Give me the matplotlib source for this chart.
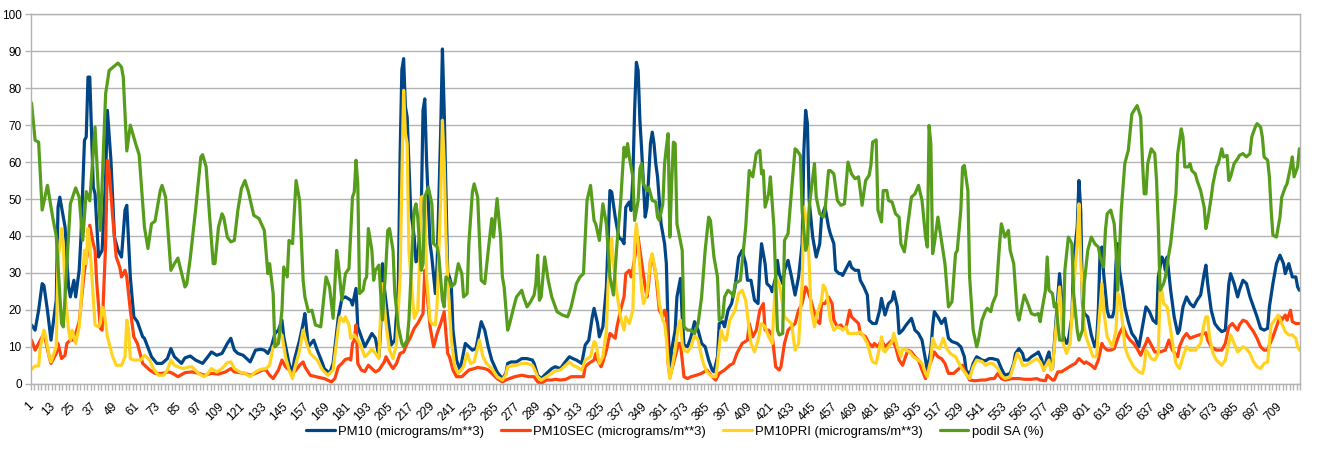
import numpy as np
import matplotlib
matplotlib.use("Agg")
import matplotlib.pyplot as plt

plt.rcParams['font.family'] = ['Liberation Sans', 'DejaVu Sans']

# hour index -> value (turning points)
pm10_pts = [
    (1, 15.9), (3, 14.5), (5, 19.9), (7, 27.1), (8, 26.6), (10, 19.9), (12, 11.8), (15, 22.6), (16, 47.8), (17, 50.5),
    (19, 45), (20, 42.4), (21, 33.4), (22, 26.2), (23, 23.5), (25, 28), (26, 23.5), (28, 30.7), (29, 39.7), (31, 65.9),
    (32, 66.8), (33, 83), (34, 83), (36, 53.2), (37, 51.4), (39, 34.3), (41, 36.1), (43, 56), (44, 74), (46, 60.5),
    (48, 39.7), (50, 36.1), (52, 34.3), (54, 47), (55, 48.3), (57, 28.9), (59, 18.1), (61, 16.8), (64, 12.7), (65, 12.3),
    (69, 7.3), (72, 5.5), (75, 5.5), (78, 6.8), (80, 9.5), (82, 7.3), (84, 6.4), (86, 5.5), (88, 7), (91, 7.5),
    (94, 6.4), (98, 5.5), (101, 7.3), (103, 8.6), (106, 7.7), (109, 8.2), (112, 10.9), (114, 12.3), (116, 9.1), (118, 8.2),
    (121, 7.7), (125, 5.9), (128, 9.1), (131, 9.3), (133, 9.1), (135, 8.2), (137, 10), (139, 13.6), (141, 14.5), (143, 17.2),
    (144, 12.7), (147, 5.5), (149, 2.8), (150, 6.4), (153, 11.8), (155, 16.3), (156, 19), (158, 10), (161, 11.8), (163, 9.1),
    (166, 5.5), (167, 4.1), (170, 2.8), (172, 5.5), (175, 18.1), (177, 23.1), (179, 23.5), (182, 22.6), (183, 21.3), (184, 23.5),
    (185, 25.8), (186, 15.4), (188, 12.7), (190, 10), (192, 11.8), (194, 13.6), (196, 12.3), (198, 7.3), (199, 15.4), (200, 32.5),
    (201, 26.2), (203, 18.1), (205, 10.5), (207, 11.8), (209, 26.2), (210, 62), (211, 85), (212, 88), (213, 75), (214, 72.2),
    (216, 47), (218, 39.7), (219, 33), (220, 33.5), (222, 47), (223, 74), (224, 77.1), (225, 60.5), (227, 37.9), (228, 34.3),
    (230, 24.4), (231, 32.5), (233, 68), (234, 90.6), (235, 74), (236, 51.4), (237, 30), (238, 28.9), (239, 27.1), (240, 14.5),
    (242, 6.4), (244, 3.7), (247, 10.9), (249, 10), (251, 9.1), (253, 9.5), (256, 16.8), (258, 14.5), (260, 10), (262, 6.4),
    (265, 3.2), (268, 1.4), (270, 2.8), (271, 5.5), (273, 5.9), (276, 5.9), (279, 6.8), (282, 6.8), (285, 6.4), (286, 5.5),
    (288, 2.3), (290, 1.4), (293, 2.8), (296, 4.1), (298, 4.6), (301, 4.1), (303, 5.5), (306, 7.3), (308, 6.8), (310, 6.4),
    (313, 5.5), (315, 10.5), (317, 11.8), (319, 18.1), (320, 20.4), (322, 16.3), (323, 12.7), (325, 15.4), (327, 26.2), (329, 52.3),
    (330, 51.9), (332, 45.1), (334, 39.7), (336, 38.8), (337, 37.9), (338, 47.8), (340, 49.2), (341, 46.9), (342, 56), (343, 74),
    (344, 87), (345, 84.8), (346, 71.3), (347, 63.2), (349, 45.1), (350, 47.8), (352, 65), (353, 68.1), (354, 65), (355, 59.6),
    (356, 56), (358, 43.3), (360, 37.9), (361, 32.5), (362, 15), (363, 2.8), (364, 9.1), (366, 14.5), (367, 23.5), (369, 28.5),
    (370, 18.1), (371, 10.5), (373, 10), (375, 12.7), (377, 16.8), (379, 14.5), (381, 10.9), (383, 10), (385, 6.4), (387, 3.7),
    (388, 3.2), (390, 7.3), (391, 16.3), (393, 16.8), (394, 15.4), (396, 19.9), (398, 21.7), (400, 26.2), (402, 34.3), (404, 36.1),
    (406, 32.5), (407, 28), (409, 28), (411, 22.6), (413, 21.7), (414, 31.6), (415, 37.9), (417, 32.5), (418, 27.1), (420, 26.2),
    (421, 24.9), (423, 28.9), (424, 33.4), (425, 29.8), (427, 27.1), (428, 30.7), (430, 33.4), (432, 28.9), (434, 24), (436, 28.9),
    (438, 37.9), (439, 63.2), (440, 74), (441, 70.4), (442, 49.6), (444, 39.7), (446, 34.3), (448, 37.9), (449, 45.1), (451, 47.8),
    (453, 42.4), (454, 40.6), (456, 37.9), (457, 30.7), (459, 29.8), (460, 29.8), (461, 29.3), (463, 31.2), (465, 33), (466, 31.5),
    (468, 30.7), (470, 30.7), (471, 28), (473, 26.2), (475, 24), (476, 17.2), (478, 16.3), (480, 16.3), (482, 19.9), (483, 23.1),
    (485, 18.6), (487, 21.7), (489, 22.6), (490, 24.9), (492, 20.8), (493, 13.6), (495, 14.5), (497, 15.9), (500, 17.7), (502, 14.5),
    (504, 13.6), (506, 11.8), (508, 6.4), (509, 3.7), (511, 9.1), (512, 15.4), (513, 19.5), (515, 18.1), (517, 16.3), (519, 17.7),
    (521, 12.3), (523, 11.4), (526, 10.9), (528, 10), (530, 7.3), (531, 3.7), (533, 2.3), (535, 5.5), (537, 7.3), (540, 6.4),
    (542, 6.2), (544, 6.8), (546, 6.8), (549, 6.4), (551, 4.1), (553, 2.3), (556, 2.8), (558, 5.5), (559, 8.2), (561, 9.5),
    (563, 8.2), (564, 6.4), (566, 6.4), (568, 7.3), (571, 8.2), (572, 8.6), (574, 6.4), (575, 3.7), (577, 7.3), (578, 8.6),
    (579, 4.1), (580, 4.1), (582, 17.2), (584, 29.8), (585, 24.4), (586, 13.2), (588, 10.9), (589, 11.8), (591, 18.1), (592, 33.4),
    (594, 42.4), (595, 55), (596, 47), (597, 21.7), (598, 19), (600, 18.1), (602, 13.2), (604, 10), (605, 11.8), (606, 19.9),
    (607, 36.1), (608, 37), (609, 29.8), (611, 19.9), (612, 18.1), (614, 18.1), (615, 19.9), (616, 32.5), (617, 37.9), (618, 30.7),
    (620, 24.4), (621, 20.8), (623, 16.8), (625, 13.6), (627, 12.3), (629, 10), (630, 12.7), (632, 18.1), (633, 20.8), (635, 19.5),
    (637, 17.2), (639, 16.3), (640, 28.9), (642, 34.3), (643, 33.4), (644, 30.7), (645, 34.3), (647, 25.3), (649, 18.1), (651, 13.6),
    (652, 14.5), (654, 20.8), (656, 23.5), (658, 21.7), (660, 20.8), (662, 22.6), (664, 24), (666, 29.8), (667, 32.1), (668, 27.1),
    (670, 19.9), (672, 16.3), (674, 15), (676, 14.1), (678, 14.5), (680, 27.1), (681, 29.8), (683, 27.1), (685, 23.5), (686, 25.3),
    (688, 28), (690, 27.1), (692, 23.5), (694, 20.8), (696, 18.1), (698, 15), (700, 14.5), (702, 15), (703, 20.8), (705, 27.1),
    (707, 32.5), (709, 34.8), (711, 32.5), (712, 29.8), (714, 32.5), (716, 28.9), (718, 28.9), (719, 26.2), (720, 25.3),
]

pm10sec_pts = [
    (1, 11.8), (3, 9.1), (5, 10.9), (8, 13.6), (11, 7.3), (12, 5.5), (15, 8.2), (16, 10.9), (18, 6.8), (20, 7.7),
    (21, 10.9), (23, 11.8), (25, 11.8), (26, 13.6), (28, 16.8), (31, 30.7), (33, 36.1), (34, 42.9), (36, 37.9), (37, 36.1),
    (38, 27.1), (40, 15), (41, 14.5), (43, 37.9), (44, 60.5), (45, 57.7), (47, 45.1), (49, 34.3), (51, 31.6), (52, 28.9),
    (54, 30.7), (55, 28.9), (57, 19.9), (59, 12.7), (61, 10.9), (64, 5.5), (68, 3.7), (71, 2.8), (75, 2.8), (79, 3.2),
    (81, 2.8), (84, 1.9), (88, 3), (92, 3.2), (96, 2.8), (99, 2.3), (103, 2.8), (107, 2.6), (111, 3.2), (114, 4.1),
    (116, 3.2), (119, 3), (122, 2.8), (125, 2.3), (128, 2.8), (132, 3.7), (134, 3.7), (136, 2.3), (138, 1.4), (141, 3.7),
    (143, 6.4), (145, 4.6), (147, 3.7), (149, 2.8), (151, 3.7), (153, 5), (155, 5.9), (156, 4.6), (159, 2.3), (164, 1.7),
    (167, 1.4), (171, 0.5), (173, 1.4), (175, 4.6), (177, 5.5), (179, 6.6), (181, 6.8), (182, 6.4), (183, 10.9), (184, 11.8),
    (185, 15.9), (186, 5.5), (188, 3.7), (190, 3.3), (192, 5), (194, 4.1), (196, 3.2), (198, 3.7), (201, 5.9), (202, 7.3),
    (204, 5.5), (206, 4.1), (208, 5.5), (210, 8.2), (212, 8.6), (214, 10.9), (216, 12.7), (218, 15), (220, 16.3), (221, 17.2),
    (223, 19), (224, 30.7), (225, 26.2), (227, 15.4), (229, 10), (231, 13.6), (233, 16.3), (235, 19.5), (236, 13.6), (237, 8.2),
    (238, 7.3), (240, 3.7), (242, 1.9), (245, 1.9), (247, 2.8), (249, 3.7), (252, 4.1), (254, 4.4), (258, 4.1), (260, 3.7),
    (262, 2.8), (265, 1.4), (268, 0.5), (270, 1), (272, 1.4), (275, 1.9), (279, 2.3), (283, 1.9), (286, 1.9), (288, 0.5),
    (290, 0.1), (293, 1), (296, 1), (298, 1.2), (301, 1), (304, 1.2), (307, 1.9), (311, 1.9), (314, 1.9), (315, 4.6),
    (317, 5.5), (320, 6.4), (321, 8.2), (322, 6.4), (324, 4.6), (325, 5.9), (327, 9.1), (329, 13.6), (330, 13.2), (332, 12.3),
    (333, 15.4), (335, 19.9), (337, 23.5), (338, 29.8), (340, 30.7), (341, 28.9), (342, 31), (344, 37), (345, 39.7), (346, 36.1),
    (349, 26.2), (350, 23.5), (351, 27.1), (352, 33.4), (353, 34.3), (355, 29.8), (357, 19.9), (359, 18.1), (360, 19.9), (361, 19),
    (362, 5.5), (363, 1.9), (364, 3.7), (366, 7.3), (368, 10.9), (369, 10.9), (371, 1.9), (373, 1.4), (375, 1.9), (378, 2.3),
    (381, 2.8), (384, 3.7), (387, 1.9), (389, 1), (391, 2.8), (394, 3.7), (397, 5), (399, 5.5), (401, 8.2), (404, 10.9),
    (407, 11.8), (408, 16.3), (410, 12.7), (412, 14.5), (414, 19.9), (416, 21.7), (417, 14.5), (419, 14.5), (421, 13.2), (423, 4.6),
    (425, 3.7), (426, 4.6), (428, 10.9), (430, 14.5), (432, 15.4), (434, 16.3), (436, 19.9), (438, 21.7), (440, 26.2), (441, 25.3),
    (443, 22.6), (446, 17.2), (448, 16.3), (449, 21.7), (451, 21.7), (453, 23.5), (455, 21.7), (456, 17.2), (458, 15.4), (460, 15.9),
    (461, 15), (463, 15.4), (465, 19.9), (466, 18.1), (468, 17.2), (470, 16.3), (471, 13.6), (474, 12.7), (476, 10.9), (478, 10),
    (479, 10.9), (481, 10), (483, 11.8), (485, 10), (487, 10.9), (489, 11.8), (491, 10), (493, 6.4), (495, 5), (496, 6.4),
    (498, 9.1), (500, 8.6), (502, 7.3), (504, 6.4), (506, 3.7), (508, 1.4), (510, 4.6), (512, 7.3), (513, 8.6), (515, 7.3),
    (517, 6.8), (519, 5.5), (521, 2.8), (524, 2.8), (527, 4.1), (529, 5), (530, 3.7), (533, 1), (536, 0.8), (540, 1),
    (542, 1), (545, 1.4), (547, 1.4), (549, 2.8), (551, 1.4), (553, 1), (557, 1.4), (561, 1.4), (564, 1.2), (568, 1.2),
    (571, 1.4), (573, 1), (576, 0.8), (577, 2.3), (580, 1), (581, 1), (583, 3.2), (585, 3.2), (588, 4.1), (591, 5),
    (593, 5.5), (595, 6.8), (598, 5.5), (599, 5.9), (602, 5), (604, 4.1), (606, 6.4), (608, 10.9), (609, 10), (611, 9.1),
    (613, 9.1), (615, 9.5), (616, 10.9), (618, 13.6), (620, 15.4), (622, 13.2), (624, 11.8), (626, 10.9), (628, 9.5), (630, 7.7),
    (632, 10), (633, 11), (634, 12.3), (636, 10.5), (638, 8.6), (641, 8.6), (644, 9.1), (646, 11.8), (648, 9.1), (651, 7.3),
    (652, 10), (654, 12.3), (656, 13.6), (658, 12.3), (660, 12.7), (663, 13.2), (666, 13.6), (667, 13.8), (668, 11.8), (670, 10),
    (673, 9.1), (676, 9.1), (678, 10.9), (680, 15.4), (682, 16.3), (685, 14.5), (686, 15.9), (688, 17.2), (690, 16.8), (692, 15.4),
    (694, 14.1), (696, 12.3), (698, 10), (700, 9.1), (702, 9.1), (703, 10.5), (705, 12.7), (707, 15.4), (709, 18.1), (710, 17.2),
    (712, 18.6), (713, 17.2), (715, 19.9), (716, 16.8), (718, 16.3), (720, 16.3),
]

pm10pri_pts = [
    (1, 3.9), (3, 4.8), (5, 4.8), (6, 10), (8, 14.5), (9, 12.7), (11, 7.3), (12, 5.9), (15, 10), (16, 33.4),
    (18, 42), (19, 37.9), (20, 24.4), (22, 14.5), (23, 11.8), (24, 14.5), (26, 10.9), (28, 15.4), (29, 21.7), (30, 28.9),
    (31, 36.1), (32, 32.5), (33, 42), (34, 37.9), (36, 23.5), (37, 15.9), (39, 15.4), (40, 16.3), (41, 20.8), (42, 20),
    (44, 12.7), (47, 7.3), (49, 5), (52, 5), (54, 7.3), (55, 17.2), (56, 14.5), (57, 6.8), (59, 6.4), (63, 6.4),
    (65, 7.7), (68, 6.4), (70, 4.1), (73, 2.3), (76, 2.3), (78, 3.7), (80, 6.4), (82, 5), (84, 4.6), (87, 4.1),
    (90, 4.5), (92, 4.6), (96, 2.6), (99, 1.9), (101, 2.8), (103, 4.1), (106, 3.2), (109, 4.1), (112, 5.7), (114, 5.9),
    (116, 4.1), (119, 3.2), (122, 2.8), (125, 1.9), (128, 3.2), (131, 3.9), (134, 4.1), (136, 5), (138, 10), (141, 12.3),
    (143, 13.2), (145, 7.3), (147, 3.7), (149, 1.4), (150, 3.7), (153, 9.1), (155, 14.5), (157, 10.9), (159, 8.2), (161, 7.3),
    (163, 6.4), (166, 3.7), (169, 2.3), (172, 3.7), (175, 15.4), (176, 18.1), (178, 16.8), (179, 18.1), (181, 15.9), (182, 12.3),
    (184, 13.2), (186, 11.8), (188, 10), (190, 7.3), (192, 8.2), (194, 9.5), (196, 8.2), (198, 6.8), (199, 19.9), (200, 27.1),
    (202, 16.3), (204, 9.1), (206, 6.8), (208, 10.9), (210, 28.9), (211, 56), (212, 79.4), (213, 67.7), (214, 65), (215, 36.1),
    (217, 23.5), (218, 17.7), (220, 19.9), (221, 32.5), (222, 50.5), (224, 51), (225, 28.9), (227, 17.2), (228, 16.3), (230, 15.9),
    (231, 21.7), (233, 50), (234, 71.3), (235, 60), (236, 40), (237, 28), (238, 19.9), (239, 12.3), (241, 4.6), (243, 2.8),
    (246, 4.6), (248, 8.2), (250, 5.5), (252, 5.9), (255, 11.8), (257, 7.3), (259, 5.5), (262, 4.1), (265, 1.9), (268, 1),
    (270, 2.5), (271, 4.6), (273, 4.8), (276, 5), (279, 5.5), (282, 5.5), (285, 5), (286, 4.1), (288, 1.9), (290, 1),
    (293, 1.9), (296, 2.8), (298, 3.5), (301, 3.7), (303, 4.6), (306, 5.9), (308, 5), (310, 4.6), (313, 3.7), (315, 6.4),
    (318, 7.3), (320, 11.4), (321, 10.9), (323, 5.5), (325, 7.3), (327, 14.5), (328, 27.1), (330, 39.3), (331, 32.5), (333, 24.4),
    (335, 18.1), (337, 14.5), (338, 18.1), (340, 16.3), (342, 19.9), (343, 37.9), (344, 43.3), (345, 37.9), (347, 25.3), (348, 21.7),
    (350, 24.4), (352, 33.4), (353, 35.2), (355, 29.8), (356, 27.1), (357, 21.7), (359, 17.2), (360, 16.3), (361, 12), (362, 5.5),
    (363, 1.4), (364, 3.7), (366, 9.1), (368, 16.3), (369, 17.2), (370, 10.9), (371, 9.1), (373, 8.6), (375, 10), (377, 13.2),
    (379, 11.8), (381, 7.3), (382, 5.5), (384, 3.2), (387, 1.9), (389, 1.9), (390, 5.5), (392, 14.5), (394, 11.8), (395, 11.8),
    (397, 17.2), (400, 19.9), (402, 24.4), (404, 25.3), (406, 22.6), (408, 14.5), (409, 10.9), (411, 8.6), (413, 11.8), (415, 16.3),
    (417, 15.4), (419, 12.7), (421, 10.9), (422, 19.9), (423, 28.9), (425, 27.1), (426, 24.4), (428, 18.1), (430, 17.2), (432, 16.3),
    (434, 9.1), (436, 10.9), (438, 27.1), (439, 47.8), (441, 43.3), (442, 32.5), (443, 20.8), (445, 15.4), (446, 18.1), (449, 22.6),
    (450, 26.7), (451, 26), (452, 24.4), (454, 17.2), (456, 14.5), (458, 15.4), (460, 15), (461, 14.5), (463, 15.4), (464, 13.6),
    (466, 13.6), (469, 13.6), (471, 14), (473, 12.7), (475, 10.9), (477, 7.3), (478, 5.9), (480, 5.5), (482, 10), (483, 12.7),
    (484, 9.1), (485, 8.6), (487, 10), (489, 11.4), (490, 13.6), (492, 10), (494, 7.3), (495, 9.5), (497, 9.1), (499, 8.6),
    (501, 7.3), (504, 6.4), (506, 5.5), (508, 2.8), (509, 1.9), (511, 6.4), (512, 12.3), (514, 10), (516, 9.5), (518, 12.3),
    (520, 9.5), (522, 8.2), (525, 7.3), (528, 4.6), (530, 3.2), (533, 1.4), (535, 4.6), (537, 6.4), (540, 6), (542, 5),
    (544, 5.5), (546, 5.5), (549, 4.1), (551, 2.3), (553, 1.4), (556, 1.9), (558, 5), (560, 8.2), (562, 6.4), (563, 5),
    (565, 5), (568, 5.9), (571, 6.8), (573, 5.9), (575, 3.7), (577, 5.5), (578, 6.4), (579, 3.7), (580, 4.1), (582, 15.4),
    (584, 26.2), (585, 19.9), (586, 10.9), (588, 8.2), (590, 10.9), (592, 26.2), (594, 37.9), (595, 48.7), (596, 33.4), (598, 15.4),
    (599, 12.7), (601, 10), (603, 7.3), (605, 7.3), (606, 14.5), (608, 27.1), (609, 19.9), (611, 12.7), (613, 10.9), (614, 10),
    (616, 14.5), (617, 24.4), (618, 23.5), (620, 15.4), (621, 10), (623, 7.3), (626, 4.6), (629, 3.2), (631, 2.8), (632, 4.6),
    (633, 9.1), (634, 8.5), (636, 6.8), (638, 6.4), (640, 8.2), (641, 25.3), (642, 25.3), (643, 21.7), (645, 20.8), (647, 14.5),
    (649, 8.2), (650, 5.5), (652, 4.1), (654, 7.3), (656, 10), (658, 9.1), (661, 9.1), (664, 10.9), (666, 16.3), (667, 18.1),
    (668, 18.1), (669, 12.7), (671, 8.2), (673, 6.4), (676, 5), (678, 6.4), (681, 13.2), (683, 10.9), (685, 8.6), (686, 9.1),
    (688, 10), (690, 9.5), (692, 8.2), (694, 5.9), (696, 4.6), (698, 4.1), (700, 5.5), (702, 5.9), (703, 10.9), (704, 15.9),
    (706, 17.2), (708, 18.6), (710, 16.3), (712, 14.1), (714, 13.2), (716, 13.2), (718, 12.3), (719, 10), (720, 9.1),
]

podil_pts = [
    (1, 76), (3, 65.9), (5, 65.4), (7, 47), (10, 53.7), (13, 45), (15, 40), (18, 16.3), (19, 15.4), (23, 48.7),
    (26, 53), (28, 50.5), (30, 38.8), (32, 52), (34, 49.5), (37, 69.5), (40, 41.5), (43, 78.5), (45, 84.8), (50, 86.8),
    (52, 85.7), (53, 83), (55, 63), (57, 70), (60, 65), (62, 62), (65, 42.4), (67, 36.6), (69, 43.3), (71, 44),
    (74, 52.3), (75, 53.7), (77, 50.5), (80, 30.7), (82, 32.5), (84, 34), (88, 26.2), (89, 27), (91, 34), (94, 47),
    (97, 61.4), (98, 62), (100, 58.7), (102, 45.1), (104, 32.5), (105, 32.5), (107, 42.4), (109, 46), (110, 45), (112, 39.7),
    (114, 38.4), (116, 38.8), (118, 47), (120, 52.8), (122, 55), (124, 51.9), (127, 45.6), (130, 44.7), (133, 41.5), (135, 29.8),
    (136, 32.5), (138, 24.4), (139, 10), (141, 10.9), (143, 19.9), (144, 31.6), (146, 28.9), (147, 38.8), (149, 37.9), (151, 55),
    (153, 49.6), (155, 28), (156, 23.5), (158, 19.5), (160, 19.9), (162, 15.9), (165, 15.4), (168, 28.9), (170, 26.2), (172, 17.7),
    (174, 36.1), (175, 32.5), (177, 22.6), (179, 29.8), (181, 31.2), (183, 50.5), (184, 51.9), (185, 60.5), (186, 54.1), (187, 24.4),
    (189, 25.3), (190, 28), (191, 28.9), (192, 42), (194, 36.1), (195, 28), (196, 30.7), (198, 32.1), (199, 24.4), (200, 17.2),
    (202, 32.5), (203, 41.5), (204, 42), (206, 36.1), (207, 24.4), (209, 15.4), (211, 10.9), (212, 10), (214, 11.8), (215, 17.2),
    (217, 37.9), (218, 47), (219, 48.7), (220, 45.1), (222, 30.7), (223, 32.5), (224, 50.5), (226, 53.2), (228, 48.7), (229, 37.9),
    (231, 37), (232, 34.3), (234, 22.6), (235, 20.8), (236, 28.9), (238, 28), (239, 26.2), (241, 27.1), (243, 32.5), (245, 29.8),
    (246, 23.5), (248, 24.4), (249, 37.9), (251, 51.9), (252, 54.1), (254, 50.5), (256, 28), (258, 27.1), (260, 36.1), (262, 44.7),
    (263, 39.7), (265, 50.1), (267, 39.7), (268, 28.9), (269, 26.2), (271, 14.5), (272, 16), (274, 19.9), (276, 23.5), (279, 25.3),
    (280, 23.5), (282, 20.8), (284, 22.2), (286, 24), (287, 27.1), (288, 34.8), (289, 22.6), (290, 23.5), (292, 34.3), (294, 28),
    (296, 23.5), (299, 19.5), (302, 18.6), (305, 18.1), (307, 20.8), (310, 27.1), (312, 28.9), (314, 29.8), (316, 49.6), (318, 53.7),
    (320, 44.2), (321, 43.2), (323, 38.8), (325, 48.7), (327, 43.2), (329, 28.9), (331, 24), (333, 37.9), (335, 48.7), (337, 64),
    (338, 61.4), (339, 65), (340, 61.4), (342, 56), (343, 44.2), (345, 49.6), (346, 58.2), (347, 59.6), (348, 54.1), (350, 52.3),
    (351, 53.2), (353, 49.6), (355, 49.2), (356, 45.1), (357, 44.2), (359, 48.7), (360, 59.6), (361, 64), (362, 67.7), (363, 39.7),
    (364, 54.1), (365, 65.4), (366, 65), (367, 43.3), (370, 36.1), (371, 15.4), (373, 14.5), (375, 14.5), (377, 13.6), (379, 16.3),
    (381, 23.5), (383, 36.1), (385, 45.1), (386, 44.2), (388, 34.3), (390, 28.9), (391, 17.2), (393, 18.1), (394, 23.5), (396, 25.3),
    (398, 24.4), (399, 23.5), (400, 27.1), (403, 28), (406, 42.4), (408, 57.7), (410, 56), (412, 62.3), (414, 63.2), (415, 56.8),
    (416, 57.7), (417, 47.8), (419, 51.4), (420, 56), (422, 42.4), (424, 14.5), (425, 13.2), (427, 13.6), (428, 38.8), (430, 40.6),
    (432, 52.3), (434, 63.6), (435, 63.2), (437, 61.8), (438, 46.9), (440, 36.1), (441, 37.9), (442, 47.8), (445, 59.6), (446, 50.5),
    (448, 46), (450, 45.1), (451, 47), (453, 57.7), (454, 57.7), (456, 56.8), (458, 49.6), (460, 48.3), (462, 48.7), (464, 60),
    (466, 56.8), (468, 55.5), (470, 56), (472, 48.3), (474, 55), (476, 56.4), (477, 59.1), (478, 65.4), (480, 66), (481, 47),
    (483, 43.8), (484, 52.3), (486, 52.3), (487, 49.6), (489, 49.2), (491, 46), (493, 45.1), (494, 37.9), (496, 35.7), (498, 43.3),
    (500, 50.5), (502, 51.4), (504, 53.7), (506, 49.6), (508, 39.7), (509, 37), (510, 69.9), (511, 65), (512, 35.2), (513, 37.9),
    (515, 45.1), (517, 38.8), (519, 32.5), (521, 20.8), (523, 22.2), (525, 35.2), (526, 36.1), (528, 47), (529, 58.6), (530, 59.1),
    (532, 52.3), (533, 28.9), (535, 14.5), (537, 10), (538, 11.8), (540, 17.2), (542, 19.7), (543, 20.4), (545, 19.5), (546, 21.7),
    (548, 24), (550, 37.9), (551, 43.3), (552, 41.5), (553, 39.7), (555, 41.5), (556, 36.1), (558, 32.5), (560, 19), (561, 17.2),
    (563, 21.7), (564, 24), (566, 21.7), (568, 19), (570, 18.6), (572, 19), (573, 16.8), (574, 19.9), (576, 25.3), (577, 34.3),
    (578, 25.3), (580, 24.4), (581, 20.8), (582, 21.7), (583, 16.3), (584, 11.8), (586, 11.8), (587, 30.7), (589, 39.7), (591, 37.9),
    (592, 24.4), (594, 14.5), (595, 11.8), (597, 14.5), (598, 27.1), (600, 36.1), (602, 39.7), (604, 37.9), (606, 37), (607, 34.3),
    (609, 31.6), (610, 41.5), (611, 46), (613, 47), (615, 43.3), (616, 36.1), (617, 25.3), (619, 47), (621, 59.6), (623, 63.2),
    (625, 73), (628, 75.3), (630, 72.2), (631, 60.5), (632, 51.4), (633, 51.4), (634, 59.6), (636, 63.6), (638, 62.3), (639, 55),
    (640, 42.4), (641, 25.3), (643, 27.1), (644, 28.9), (646, 35.2), (647, 37.9), (649, 47), (650, 51.4), (651, 62.3), (653, 69),
    (654, 66.8), (655, 58.7), (657, 58.7), (658, 59.6), (659, 57.7), (661, 56.8), (662, 55), (664, 52.3), (666, 47.8), (667, 42),
    (668, 44.2), (670, 50.5), (671, 54.1), (673, 58.7), (674, 59.6), (676, 63.6), (677, 61.4), (679, 61.8), (680, 55), (681, 56),
    (683, 59.6), (685, 60.9), (686, 61.8), (688, 62.3), (690, 61.4), (692, 62.3), (693, 66.8), (695, 69.5), (696, 70.4), (698, 69.5),
    (699, 66.8), (700, 61.4), (702, 60.5), (703, 56), (704, 47), (705, 40.2), (707, 39.7), (709, 45.1), (710, 50.5), (712, 53.2),
    (713, 54.1), (715, 58.7), (716, 61.4), (717, 56), (719, 58.7), (720, 63.6),
]

n_hours = 720
tick_hours = list(range(1, n_hours + 1, 12))

series = [
    ("PM10 (micrograms/m**3)", pm10_pts, "#004586"),
    ("PM10SEC (micrograms/m**3)", pm10sec_pts, "#ff420e"),
    ("PM10PRI (micrograms/m**3)", pm10pri_pts, "#ffd320"),
    ("podil SA (%)", podil_pts, "#579d1c"),
]

fig = plt.figure(figsize=(13.23, 4.54), dpi=100)
ax = fig.add_axes([0.0232, 0.1548, 0.9596, 0.8137])

for label, pts, color in series:
    x, y = zip(*pts)
    ax.plot(x, y, color=color, lw=2.3, label=label,
            solid_joinstyle="round", solid_capstyle="round")

ax.set_xlim(0.5, n_hours + 0.5)
ax.set_ylim(0, 100)
ax.set_yticks(range(0, 101, 10))
ax.yaxis.grid(True, color="#b3b3b3", lw=1)
ax.set_axisbelow(True)

ax.set_xticks(tick_hours)
ax.set_xticklabels([str(h) for h in tick_hours], rotation=45, ha="right",
                   rotation_mode="anchor", va="center")
ax.set_xticks(np.arange(0.5, n_hours + 1, 2), minor=True)
ax.tick_params(axis="x", which="major", length=0, pad=15, labelsize=8.5)
ax.tick_params(axis="x", which="minor", length=4, color="#b3b3b3", width=1)
ax.tick_params(axis="y", length=4.5, color="#b3b3b3", width=1, pad=2, labelsize=8.5)

for s in ax.spines.values():
    s.set_color("#b3b3b3")
    s.set_linewidth(1)

fig.legend(loc="center", bbox_to_anchor=(0.51, 0.049), ncol=4, frameon=False,
           fontsize=9.4, handlelength=2.2, handletextpad=0.25, columnspacing=1.3)

fig.savefig("out.png", dpi=100)
